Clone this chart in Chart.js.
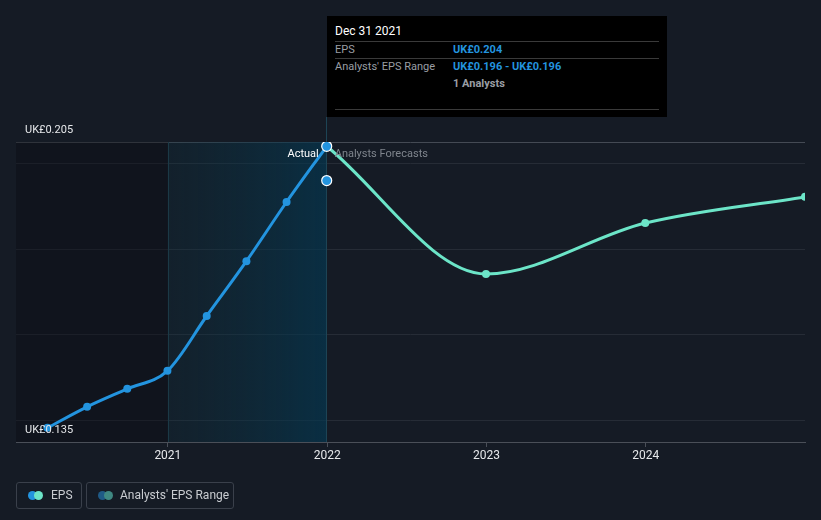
<!DOCTYPE html>
<html>
<head>
<meta charset="utf-8">
<script src="https://cdn.jsdelivr.net/npm/chart.js@4.4.0/dist/chart.umd.min.js"></script>
<style>
  html, body { margin: 0; padding: 0; background: #151b25; }
  body { width: 821px; height: 520px; position: relative; overflow: hidden; font-family: Roboto, "Noto Sans", Arial, sans-serif; }
  #wrap { position: absolute; left: 0; top: 0; width: 821px; height: 520px; }
  .tip { position: absolute; top: 16px; width: 340px; height: 101px; background: #000; color: #fff; box-sizing: border-box; padding: 0 8px; font-size: 11px; }
  .tip .title { position: absolute; left: 8px; font-size: 12px; color: #fff; }
  .tip .hr { position: absolute; left: 8px; right: 8px; height: 1px; background: #3a3a3a; }
  .tip .lbl { position: absolute; left: 8px; color: #9a9ea4; }
  .tip .val { position: absolute; left: 126px; color: #2394df; font-weight: bold; }
  .tip .cnt { position: absolute; left: 126px; color: #9a9ea4; font-weight: bold; }
  .leg { position: absolute; top: 482px; height: 27px; border: 1px solid #3a404b; border-radius: 3px; box-sizing: border-box; color: #c9ccd1; font-size: 12px; }
  .leg .d { position: absolute; top: 8px; width: 9px; height: 9px; border-radius: 50%; }
  .leg span.t { position: absolute; top: 5px; }
</style>
</head>
<body>
<div id="wrap"><canvas id="c" width="821" height="520"></canvas></div>

<div class="tip" id="tip">
  <div class="title" style="top:8px">Dec 31 2021</div>
  <div class="hr" style="top:25px"></div>
  <div class="lbl" style="top:27px">EPS</div>
  <div class="val" style="top:27px">UK£0.204</div>
  <div class="hr" style="top:42px"></div>
  <div class="lbl" style="top:44px">Analysts' EPS Range</div>
  <div class="val" style="top:44px">UK£0.196 - UK£0.196</div>
  <div class="cnt" style="top:61px">1 Analysts</div>
  <div class="hr" style="top:93px"></div>
</div>

<div class="leg" style="left:16px;width:66px">
  <div class="d" style="left:11px;background:#2394df"></div>
  <div class="d" style="left:17px;background:#6ce5c8"></div>
  <span class="t" style="left:34px">EPS</span>
</div>
<div class="leg" style="left:86px;width:148px">
  <div class="d" style="left:11px;background:#1f5a86"></div>
  <div class="d" style="left:17px;background:#3f8882"></div>
  <span class="t" style="left:33px">Analysts' EPS Range</span>
</div>

<script>
// ---- data ----
const actualDates = ["2020-03-31", "2020-06-30", "2020-09-30", "2020-12-31", "2021-03-31", "2021-06-30", "2021-09-30", "2021-12-31"];
const actualEps   = [0.1383, 0.1432, 0.1474, 0.1516, 0.1644, 0.1772, 0.1910, 0.204];
const forecastDates = ["2021-12-31", "2022-12-31", "2023-12-31", "2024-12-31"];
const forecastEps   = [0.204, 0.1742, 0.1861, 0.1922];
const rangeDates = ["2021-12-31"];
const rangeLow   = [0.196];
const rangeHigh  = [0.196];
const yearTicks  = [2021, 2022, 2023, 2024];
const yGridValues = [0.14, 0.16, 0.18, 0.20, 0.205];
const yMin = 0.135, yMax = 0.205;
const xStart = "2020-01-19", xEnd = "2024-12-31";
const actualStart = "2021-01-01", actualEnd = "2021-12-31";

const t = s => Date.parse(s + "T00:00:00Z");
const pts = (d, v) => d.map((x, i) => ({ x: t(x), y: v[i] }));

const BLUE = "#2394df", TEAL = "#6ce5c8";

const bgPlugin = {
  id: "bg",
  beforeDatasetsDraw(chart) {
    const { ctx, chartArea: a, scales: { x, y } } = chart;
    const x1 = x.getPixelForValue(t(actualStart));
    const x2 = x.getPixelForValue(t(actualEnd));
    const top = y.getPixelForValue(yMax), bot = a.bottom;
    ctx.save();
    ctx.fillStyle = "rgba(8,10,14,0.35)";
    ctx.fillRect(a.left, top, x1 - a.left, bot - top);
    const g = ctx.createLinearGradient(x1, 0, x2, 0);
    g.addColorStop(0, "rgba(14,50,65,0.25)");
    g.addColorStop(1, "rgba(5,55,80,0.7)");
    ctx.fillStyle = g;
    ctx.fillRect(x1, top, x2 - x1, bot - top);
    ctx.lineWidth = 1;
    ctx.strokeStyle = "#1b3946";
    ctx.beginPath(); ctx.moveTo(Math.round(x1) + 0.5, top); ctx.lineTo(Math.round(x1) + 0.5, bot); ctx.stroke();
    ctx.strokeStyle = "#1d4455";
    ctx.beginPath(); ctx.moveTo(Math.round(x2) - 0.5, 117); ctx.lineTo(Math.round(x2) - 0.5, bot); ctx.stroke();
    ctx.restore();
  },
  afterDraw(chart) {
    const { ctx, scales: { x, y } } = chart;
    ctx.save();
    ctx.font = "11px Roboto, 'Noto Sans', sans-serif";
    ctx.textBaseline = "middle";
    ctx.fillStyle = "#e6e8eb";
    ctx.textAlign = "left";
    ctx.fillText("UK£" + yMax.toFixed(3), 25, y.getPixelForValue(yMax) - 12);
    ctx.fillText("UK£" + yMin.toFixed(3), 25, y.getPixelForValue(yMin) - 12);
    const xd = x.getPixelForValue(t(actualEnd));
    const ly = y.getPixelForValue(yMax) + 12;
    ctx.textAlign = "right";
    ctx.fillStyle = "#ffffff";
    ctx.fillText("Actual", xd - 8, ly);
    ctx.textAlign = "left";
    ctx.fillStyle = "#7f858d";
    ctx.fillText("Analysts Forecasts", xd + 8, ly);
    ctx.restore();
    document.getElementById("tip").style.left = Math.round(xd) + "px";
  }
};

new Chart(document.getElementById("c"), {
  type: "line",
  data: {
    datasets: [
      {
        label: "EPS",
        data: pts(actualDates, actualEps),
        borderColor: BLUE, backgroundColor: BLUE, borderWidth: 3,
        cubicInterpolationMode: "monotone",
        pointRadius: ctx => ctx.dataIndex === actualDates.length - 1 ? 5 : 4,
        pointBorderColor: ctx => ctx.dataIndex === actualDates.length - 1 ? "#ffffff" : BLUE,
        pointBorderWidth: ctx => ctx.dataIndex === actualDates.length - 1 ? 1.2 : 0,
        pointBackgroundColor: BLUE
      },
      {
        label: "Range",
        data: pts(rangeDates, rangeLow),
        showLine: false,
        pointRadius: 5, pointBackgroundColor: BLUE, pointBorderColor: "#ffffff", pointBorderWidth: 1.2
      },
      {
        label: "Forecast",
        data: pts(forecastDates, forecastEps),
        borderColor: TEAL, backgroundColor: TEAL, borderWidth: 3,
        cubicInterpolationMode: "monotone",
        pointRadius: ctx => ctx.dataIndex === 0 ? 0 : 4,
        pointBackgroundColor: TEAL, pointBorderWidth: 0
      }
    ]
  },
  options: {
    responsive: false,
    animation: false,
    events: [],
    layout: { padding: { left: 16, right: 16, top: 142, bottom: 48 } },
    plugins: { legend: { display: false }, tooltip: { enabled: false } },
    scales: {
      x: {
        type: "linear",
        min: t(xStart), max: t(xEnd),
        afterBuildTicks: s => { s.ticks = yearTicks.map(yr => ({ value: Date.UTC(yr, 0, 1) })); },
        afterFit: s => { s.height = 30; },
        ticks: {
          callback: v => String(new Date(v).getUTCFullYear()),
          color: "#e6e8eb", font: { family: "Roboto", size: 12 }, padding: 2, maxRotation: 0, autoSkip: false
        },
        grid: { drawOnChartArea: false, drawTicks: true, tickLength: 5, color: "#4a4f58" },
        border: { display: true, color: "#4a4f58", width: 1 }
      },
      y: {
        min: yMin, max: yMax,
        afterBuildTicks: s => { s.ticks = yGridValues.map(v => ({ value: v })); },
        afterFit: s => { s.width = 0; },
        ticks: { display: false },
        grid: {
          drawTicks: false,
          color: c => (c.tick && c.tick.value === yMax) ? "#444a54" : "#262c36",
          lineWidth: 1
        },
        border: { display: false }
      }
    }
  },
  plugins: [bgPlugin]
});
</script>
</body>
</html>
